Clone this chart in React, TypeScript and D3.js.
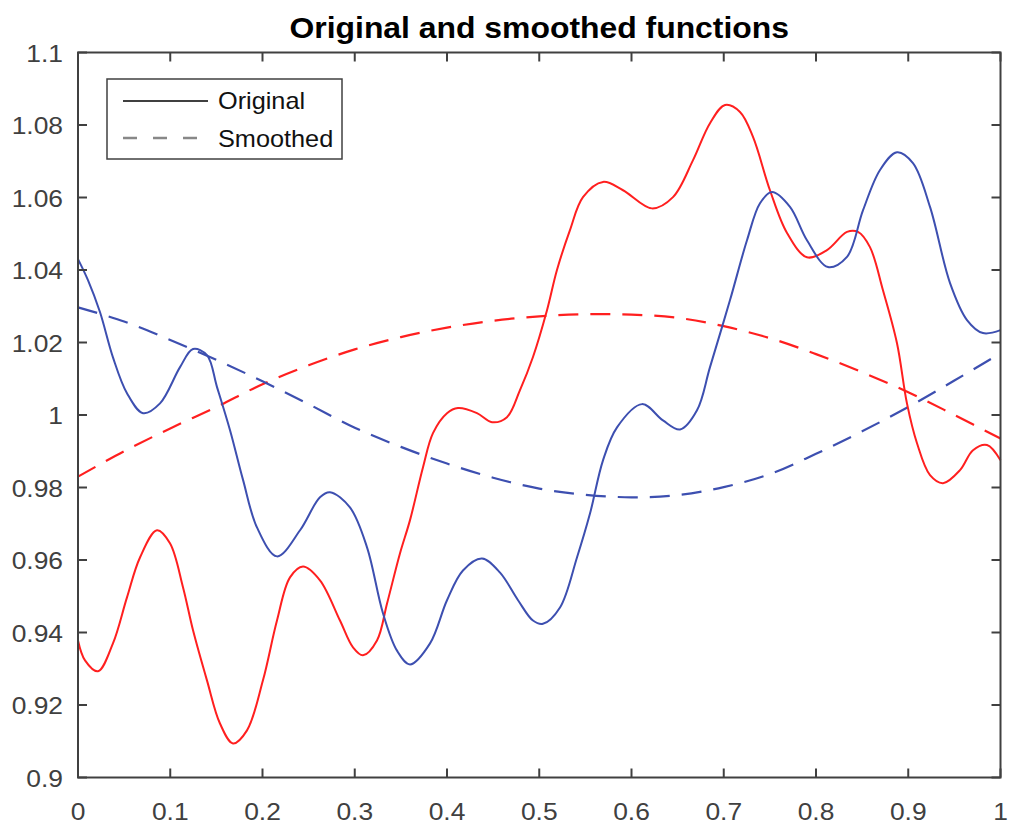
import React from 'react';
import * as d3 from 'd3';

// values: [x, y]
const blueOriginal: [number, number][] = [
  [0, 1.043], [0.0108, 1.0372], [0.0238, 1.0284], [0.0379, 1.0159], [0.0531, 1.006], [0.0705, 1.0005],
  [0.0889, 1.0032], [0.1106, 1.0132], [0.1247, 1.0182], [0.1398, 1.0165], [0.1507, 1.0077], [0.1648, 0.9958],
  [0.1789, 0.9821], [0.194, 0.969], [0.2157, 0.961], [0.2407, 0.9682], [0.2623, 0.9773], [0.2732, 0.9787],
  [0.2948, 0.9745], [0.3133, 0.9635], [0.3306, 0.9453], [0.3458, 0.935], [0.3599, 0.9312], [0.3816, 0.937],
  [0.4, 0.9489], [0.4173, 0.9571], [0.4379, 0.9604], [0.4575, 0.9565], [0.477, 0.9489], [0.4932, 0.9433],
  [0.504, 0.9424], [0.5225, 0.9469], [0.5409, 0.9607], [0.555, 0.9728], [0.5691, 0.9875], [0.5843, 0.9966],
  [0.6114, 1.003], [0.6341, 0.9985], [0.6526, 0.996], [0.671, 1.0013], [0.6851, 1.0132], [0.7068, 1.0317],
  [0.7252, 1.0482], [0.7393, 1.0584], [0.7523, 1.0615], [0.7718, 1.0574], [0.7902, 1.0482], [0.813, 1.0408],
  [0.8336, 1.0436], [0.851, 1.0565], [0.8694, 1.0676], [0.8878, 1.0725], [0.9051, 1.0695], [0.9236, 1.0574],
  [0.9453, 1.0364], [0.9637, 1.0262], [0.981, 1.0226], [1, 1.0234],
];

const redOriginal: [number, number][] = [
  [0, 0.9378], [0.0076, 0.9323], [0.0217, 0.9293], [0.0379, 0.937], [0.0531, 0.9497], [0.0672, 0.9607],
  [0.0856, 0.9682], [0.0997, 0.9646], [0.1138, 0.9525], [0.1247, 0.9406], [0.1398, 0.9268], [0.1539, 0.9149],
  [0.168, 0.9094], [0.1832, 0.913], [0.2005, 0.9268], [0.2157, 0.9433], [0.2298, 0.9552], [0.2439, 0.9582],
  [0.2623, 0.9544], [0.284, 0.9433], [0.2981, 0.9359], [0.3089, 0.9337], [0.3241, 0.9378], [0.335, 0.948],
  [0.349, 0.9618], [0.3599, 0.971], [0.374, 0.9856], [0.3848, 0.995], [0.4, 1.0005], [0.4119, 1.0019],
  [0.4325, 1.0005], [0.4488, 0.998], [0.465, 0.9994], [0.479, 1.0068], [0.4932, 1.016], [0.5084, 1.0289],
  [0.5192, 1.04], [0.5333, 1.051], [0.5474, 1.0601], [0.5691, 1.0643], [0.5908, 1.062], [0.6222, 1.057],
  [0.645, 1.0601], [0.6667, 1.0703], [0.6851, 1.0805], [0.7014, 1.0855], [0.7176, 1.0836], [0.7317, 1.0767],
  [0.7501, 1.062], [0.7686, 1.0502], [0.7902, 1.0435], [0.8119, 1.0455], [0.8336, 1.0505], [0.8455, 1.0505],
  [0.8585, 1.0463], [0.8726, 1.0344], [0.8878, 1.0198], [0.8986, 1.0032], [0.9095, 0.9922], [0.9236, 0.9834],
  [0.9377, 0.9812], [0.9561, 0.9848], [0.9702, 0.9903], [0.9854, 0.9917], [1, 0.9875],
];

const redSmoothed: [number, number][] = [
  [0, 0.983], [0.05, 0.99], [0.1, 0.9963], [0.15, 1.0022], [0.2, 1.0085], [0.25, 1.0137], [0.3, 1.0181],
  [0.35, 1.0215], [0.4, 1.0241], [0.45, 1.026], [0.5, 1.0272], [0.55, 1.0278], [0.6, 1.0277], [0.65, 1.0268],
  [0.7, 1.0245], [0.75, 1.0212], [0.8, 1.0168], [0.85, 1.0118], [0.9, 1.0063], [0.95, 1.0], [1, 0.9935],
];

const blueSmoothed: [number, number][] = [
  [0, 1.0297], [0.05, 1.0258], [0.1, 1.0207], [0.15, 1.0152], [0.2, 1.0093], [0.25, 1.003], [0.3, 0.9965],
  [0.35, 0.9912], [0.4, 0.9866], [0.45, 0.9827], [0.5, 0.9797], [0.55, 0.978], [0.6, 0.9773], [0.65, 0.9779],
  [0.7, 0.9801], [0.75, 0.9837], [0.8, 0.9893], [0.85, 0.9955], [0.9, 1.0022], [0.95, 1.0095], [1, 1.017],
];

const xTicks = [0, 0.1, 0.2, 0.3, 0.4, 0.5, 0.6, 0.7, 0.8, 0.9, 1];
const yTicks = [0.9, 0.92, 0.94, 0.96, 0.98, 1, 1.02, 1.04, 1.06, 1.08, 1.1];
const legendLabels = ['Original', 'Smoothed'];
const title = 'Original and smoothed functions';

const RED = '#ff1f1f';
const BLUE = '#3d4fb0';
const AXIS = '#404040';
const FONT = '"Liberation Sans", Arial, sans-serif';
const STRETCH = 1.1;

export default function App() {
  const x = d3.scaleLinear().domain([0, 1]).range([78, 1000.5]);
  const y = d3.scaleLinear().domain([0.9, 1.1]).range([777.5, 52.5]);

  const line = d3.line<[number, number]>()
    .x(d => x(d[0]))
    .y(d => y(d[1]))
    .curve(d3.curveCatmullRom.alpha(0.5));

  const fmt = (v: number) => String(+v.toFixed(2));
  const [x0, x1] = x.range();
  const [yb, yt] = y.range();
  const tick = 9;

  return (
    <svg width={1009} height={830} style={{ position: 'absolute', left: 0, top: 0, background: '#fff' }}
      fontFamily={FONT}>
      <rect x={0} y={0} width={1009} height={830} fill="#fff" />
      <text transform={`translate(${(x0 + x1) / 2},38) scale(${STRETCH},1)`} textAnchor="middle"
        fontSize={29} fontWeight="bold" fill="#000">{title}</text>

      {/* curves */}
      <path d={line(redSmoothed) || ''} fill="none" stroke={RED} strokeWidth={2.2} strokeDasharray="20,12" />
      <path d={line(blueSmoothed) || ''} fill="none" stroke={BLUE} strokeWidth={2.2} strokeDasharray="20,12" />
      <path d={line(redOriginal) || ''} fill="none" stroke={RED} strokeWidth={2} />
      <path d={line(blueOriginal) || ''} fill="none" stroke={BLUE} strokeWidth={2} />

      {/* axes box */}
      <rect x={x0} y={yt} width={x1 - x0} height={yb - yt} fill="none" stroke={AXIS} strokeWidth={2} />
      {xTicks.map(t => (
        <g key={'x' + t}>
          <line x1={x(t)} x2={x(t)} y1={yb} y2={yb - tick} stroke={AXIS} strokeWidth={2} />
          <line x1={x(t)} x2={x(t)} y1={yt} y2={yt + tick} stroke={AXIS} strokeWidth={2} />
          <text transform={`translate(${x(t)},820) scale(${STRETCH},1)`} textAnchor="middle"
            fontSize={24} fill="#404040">{fmt(t)}</text>
        </g>
      ))}
      {yTicks.map(t => (
        <g key={'y' + t}>
          <line x1={x0} x2={x0 + tick} y1={y(t)} y2={y(t)} stroke={AXIS} strokeWidth={2} />
          <line x1={x1} x2={x1 - tick} y1={y(t)} y2={y(t)} stroke={AXIS} strokeWidth={2} />
          <text transform={`translate(63,${y(t) + 9}) scale(${STRETCH},1)`} textAnchor="end"
            fontSize={24} fill="#404040">{fmt(t)}</text>
        </g>
      ))}

      {/* legend */}
      <rect x={107} y={79} width={235} height={80} fill="#fff" stroke={AXIS} strokeWidth={1.5} />
      <line x1={123} x2={208} y1={101} y2={101} stroke="#000" strokeWidth={1.5} />
      <line x1={123} x2={208} y1={138} y2={138} stroke="#888" strokeWidth={2.5} strokeDasharray="14,16" />
      {legendLabels.map((l, i) => (
        <text key={l} transform={`translate(218,${109 + i * 38}) scale(${STRETCH},1)`}
          fontSize={23} fill="#111">{l}</text>
      ))}
    </svg>
  );
}
